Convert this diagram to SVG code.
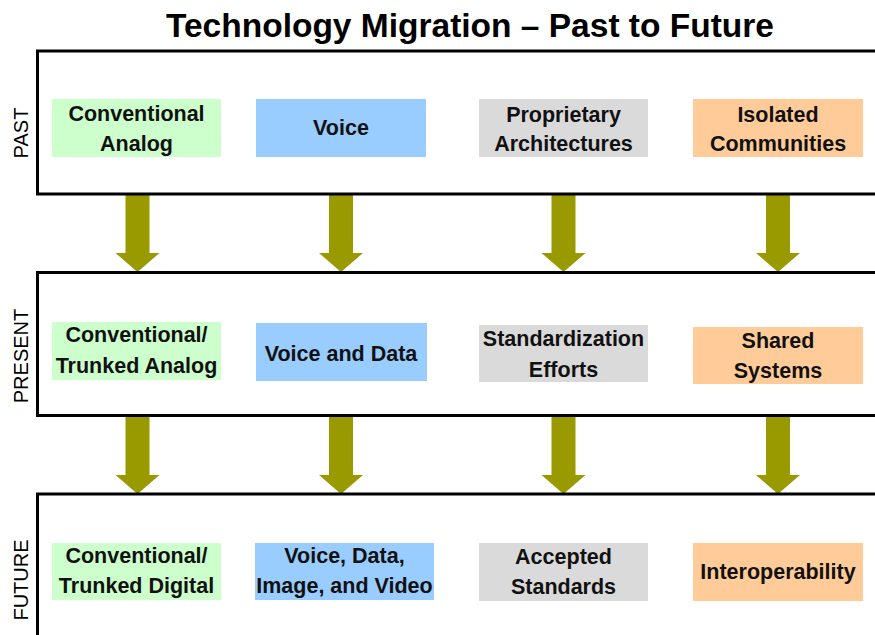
<svg xmlns="http://www.w3.org/2000/svg" width="875" height="635" viewBox="0 0 875 635">
<style>
.title{font-family:"Liberation Sans",Arial,sans-serif;font-weight:bold;font-size:33.5px;fill:#000;text-anchor:middle}
.side{font-family:"Liberation Sans",Arial,sans-serif;font-size:20px;fill:#000;text-anchor:middle}
.lbl{font-family:"Liberation Sans",Arial,sans-serif;font-weight:bold;font-size:21.5px;fill:#111;text-anchor:middle}
.frame{fill:none;stroke:#000;stroke-width:3}
.arrow{fill:#999900}
.green{fill:#CCFFCC}
.blue{fill:#99CCFF}
.grey{fill:#DADADA}
.orange{fill:#FFCC99}
</style>
<rect width="875" height="635" fill="#fff"/>
<text class="title" x="470" y="37">Technology Migration – Past to Future</text>

<g id="connectors">
  <path class="arrow" d="M125.5 194 h24 v59 h10 l-22 19 l-22 -19 h10 z"/>
  <path class="arrow" d="M329 194 h24 v59 h10 l-22 19 l-22 -19 h10 z"/>
  <path class="arrow" d="M551.5 194 h24 v59 h10 l-22 19 l-22 -19 h10 z"/>
  <path class="arrow" d="M766 194 h24 v59 h10 l-22 19 l-22 -19 h10 z"/>
  <path class="arrow" d="M125.5 416 h24 v59 h10 l-22 19 l-22 -19 h10 z"/>
  <path class="arrow" d="M329 416 h24 v59 h10 l-22 19 l-22 -19 h10 z"/>
  <path class="arrow" d="M551.5 416 h24 v59 h10 l-22 19 l-22 -19 h10 z"/>
  <path class="arrow" d="M766 416 h24 v59 h10 l-22 19 l-22 -19 h10 z"/>
</g>

<g id="stage-past">
  <rect class="frame" x="37.5" y="51" width="850" height="143"/>
  <text class="side" transform="translate(27.5,133) rotate(-90)">PAST</text>
</g>
<g id="stage-present">
  <rect class="frame" x="37.5" y="272.5" width="850" height="143"/>
  <text class="side" transform="translate(27.5,356) rotate(-90)">PRESENT</text>
</g>
<g id="stage-future">
  <rect class="frame" x="37.5" y="494" width="850" height="200"/>
  <text class="side" transform="translate(27.5,580) rotate(-90)">FUTURE</text>
</g>

<g id="past-conventional-analog">
  <rect class="green" x="52" y="99" width="169" height="58"/>
  <text class="lbl" x="136.5" y="121">Conventional</text>
  <text class="lbl" x="136.5" y="151">Analog</text>
</g>
<g id="past-voice">
  <rect class="blue" x="256" y="99" width="170" height="58"/>
  <text class="lbl" x="341" y="135">Voice</text>
</g>
<g id="past-proprietary">
  <rect class="grey" x="479" y="99" width="169" height="58"/>
  <text class="lbl" x="563.5" y="122">Proprietary</text>
  <text class="lbl" x="563.5" y="151">Architectures</text>
</g>
<g id="past-isolated">
  <rect class="orange" x="693" y="99" width="170" height="58"/>
  <text class="lbl" x="778" y="122">Isolated</text>
  <text class="lbl" x="778" y="151">Communities</text>
</g>

<g id="present-trunked-analog">
  <rect class="green" x="52" y="322" width="169" height="58"/>
  <text class="lbl" x="136.5" y="342">Conventional/</text>
  <text class="lbl" x="136.5" y="373">Trunked Analog</text>
</g>
<g id="present-voice-data">
  <rect class="blue" x="256" y="323" width="171" height="58"/>
  <text class="lbl" x="341" y="361">Voice and Data</text>
</g>
<g id="present-standardization">
  <rect class="grey" x="479" y="325" width="169" height="57"/>
  <text class="lbl" x="563.5" y="346">Standardization</text>
  <text class="lbl" x="563.5" y="377">Efforts</text>
</g>
<g id="present-shared">
  <rect class="orange" x="693" y="327" width="170" height="57"/>
  <text class="lbl" x="778" y="348">Shared</text>
  <text class="lbl" x="778" y="378">Systems</text>
</g>

<g id="future-trunked-digital">
  <rect class="green" x="52" y="543" width="169" height="57"/>
  <text class="lbl" x="136.5" y="563">Conventional/</text>
  <text class="lbl" x="136.5" y="593">Trunked Digital</text>
</g>
<g id="future-voice-data-video">
  <rect class="blue" x="255" y="543" width="179" height="57"/>
  <text class="lbl" x="344.5" y="563">Voice, Data,</text>
  <text class="lbl" x="344.5" y="593">Image, and Video</text>
</g>
<g id="future-accepted">
  <rect class="grey" x="479" y="543" width="169" height="58"/>
  <text class="lbl" x="563.5" y="564">Accepted</text>
  <text class="lbl" x="563.5" y="594">Standards</text>
</g>
<g id="future-interoperability">
  <rect class="orange" x="693" y="543" width="170" height="58"/>
  <text class="lbl" x="778" y="579">Interoperability</text>
</g>
</svg>
